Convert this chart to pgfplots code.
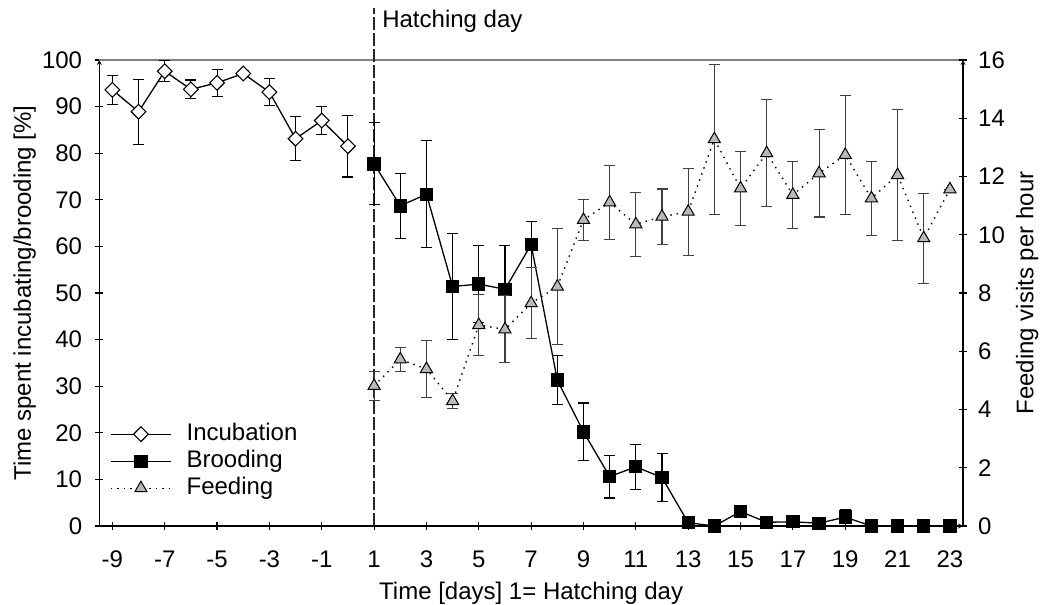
\documentclass[border=0pt]{standalone}
\usepackage{fontspec}
\setmainfont{Liberation Sans}
\usepackage{pgfplots}
\pgfplotsset{compat=1.18}
\usepackage{pgfplotstable}

\pgfplotstableread{
x y e
-9 93.6 3.1
-8 88.9 7.0
-7 97.6 2.3
-6 93.7 2.0
-5 95.1 2.9
-4 97.1 0.6
-3 93.1 2.9
-2 83.1 4.7
-1 87.0 3.0
0 81.5 6.6
}\incub

\pgfplotstableread{
x y e
1 77.7 8.8
2 68.7 7.0
3 71.2 11.5
4 51.4 11.4
5 51.9 8.2
6 50.8 9.3
7 60.4 5.0
8 31.3 5.2
9 20.2 6.2
10 10.6 4.6
11 12.7 4.8
12 10.4 5.2
13 0.7 0
14 0 0
15 3.1 0.8
16 0.8 0
17 0.9 0
18 0.6 0
19 1.9 1.7
20 0 0
21 0 0
22 0 0
23 0 0
}\brood

\pgfplotstableread{
x y e
1 4.81 0.5
2 5.72 0.4
3 5.39 0.97
4 4.29 0.27
5 6.90 1.05
6 6.75 1.15
7 7.65 1.22
8 8.22 2.0
9 10.51 0.7
10 11.11 1.27
11 10.36 1.1
12 10.62 0.95
13 10.79 1.5
14 13.28 2.58
15 11.59 1.27
16 12.80 1.83
17 11.37 1.15
18 12.11 1.5
19 12.74 2.05
20 11.25 1.27
21 12.05 2.25
22 9.88 1.55
23 11.56 0
}\feed

\definecolor{trigray}{RGB}{185,185,185}
\definecolor{toplinegray}{RGB}{128,128,128}

\begin{document}
\fontsize{24bp}{28bp}\selectfont
\begin{tikzpicture}
\path[use as bounding box] (-99.3bp,-79bp) rectangle (947.7bp,526bp);
\pgfplotsset{
  base/.style={at={(0,0)}, anchor=south west,
    width=863.7bp, height=466bp, scale only axis,
    xmin=-9.5, xmax=23.5, clip=false,
    tick align=outside, major tick length=8bp,
    /pgf/number format/assume math mode=true,
    axis line style={line width=1.2bp, -},
    every tick/.style={black, line width=1.2bp},
  },
  incstyle/.style={black, line width=1.3bp, mark=square*, mark size=5.2bp,
    mark options={fill=white, rotate=45, solid, line width=1.1bp}},
  brostyle/.style={black, line width=1.3bp, mark=square*, mark size=6bp,
    mark options={fill=black, solid}},
  feedstyle/.style={black, line width=1.4bp, dash pattern=on 1.4bp off 5bp, mark=triangle*, mark size=7bp,
    mark options={fill=trigray, solid, line width=1bp}},
  ebar/.style={error bars/.cd, y dir=both, y explicit,
    error bar style={line width=1.1bp, solid, #1},
    error mark options={rotate=90, mark size=5.5bp, line width=1.1bp, solid, #1}},
}
\begin{axis}[base,
  ymin=0, ymax=100,
  axis x line=bottom, axis y line=left,
  xtick={-9,-7,...,23}, ytick={0,10,...,100},
  xticklabel style={yshift=-13bp},
  yticklabel style={xshift=-5bp},
  xlabel={Time [days] 1= Hatching day},
  ylabel={Time spent incubating/brooding [\%]},
  xlabel style={yshift=2.5bp},
  ylabel style={yshift=-10bp},
]
\draw[toplinegray, line width=1.4bp] (rel axis cs:0,1) -- (rel axis cs:1,1);
\draw[black!85, line width=1.3bp, dash pattern=on 13bp off 3bp] (axis cs:1,0) -- (axis cs:1,111.2);
\node[anchor=west] at (axis cs:1,108.4) {Hatching day};
\addplot[incstyle, ebar=black] table[x=x, y=y, y error=e] {\incub};
\addplot[brostyle, ebar=black] table[x=x, y=y, y error=e] {\brood};
\end{axis}
\begin{axis}[base,
  ymin=0, ymax=16,
  axis y line=right, axis x line=none,
  ytick={0,2,...,16},
  yticklabel style={xshift=3bp},
  ylabel={Feeding visits per hour},
  ylabel style={yshift=5bp},
  legend cell align=left,
  legend image code/.code={\draw[mark repeat=2, mark phase=2, #1] plot coordinates {(0bp,0bp) (30bp,0bp) (60bp,0bp)};},
  legend style={at={(0.0124,0.221)}, anchor=north west, draw=none, fill=none, inner sep=0pt,
    row sep=5bp, nodes={inner sep=0bp, text height=17bp, text depth=5bp},
    /tikz/every odd column/.append style={column sep=15bp}},
]
\addlegendimage{incstyle}
\addlegendentry{Incubation}
\addlegendimage{brostyle}
\addlegendentry{Brooding}
\addplot[feedstyle, ebar=black!75] table[x=x, y=y, y error=e] {\feed};
\addlegendentry{Feeding}
\end{axis}
\end{tikzpicture}
\end{document}
